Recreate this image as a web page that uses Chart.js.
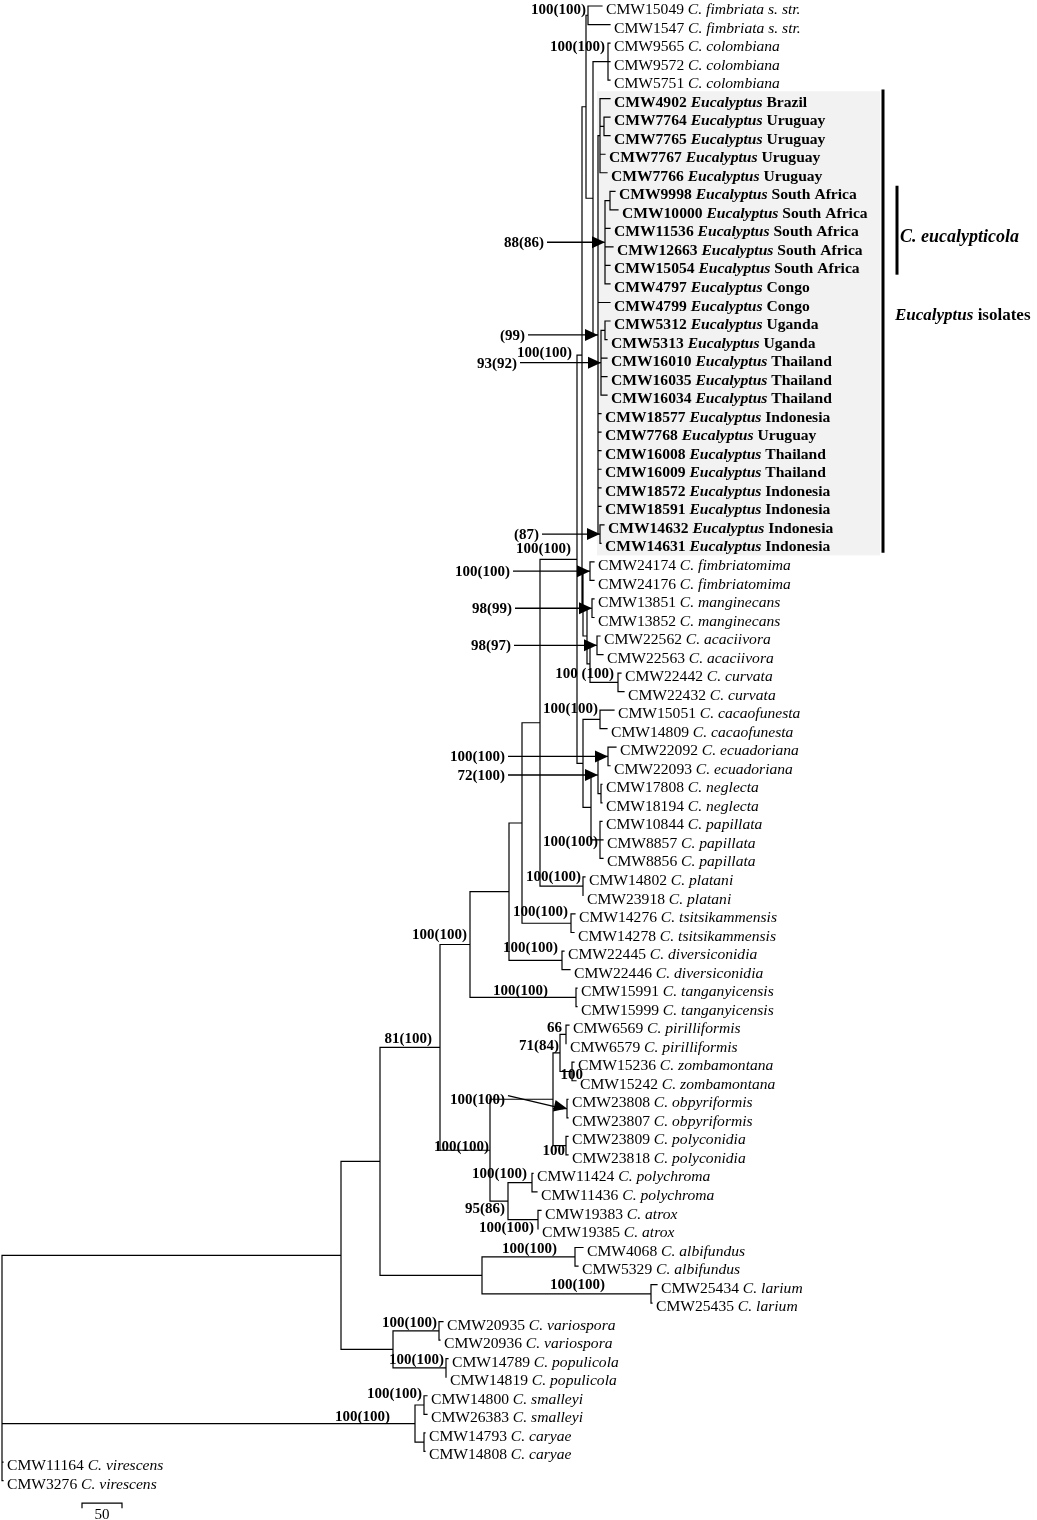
<!DOCTYPE html>
<html>
<head>
<meta charset="utf-8">
<script src="https://cdn.jsdelivr.net/npm/chart.js@4.4.1/dist/chart.umd.min.js"></script>
<style>
  html, body { margin: 0; padding: 0; background: #fff; }
  canvas { display: block; }
</style>
</head>
<body>
<canvas id="tree" width="1037" height="1520"></canvas>
<script>
// ---- data -------------------------------------------------------------
const isolates = [
  'CMW15049', 'CMW1547', 'CMW9565', 'CMW9572', 'CMW5751', 'CMW4902', 'CMW7764', 'CMW7765', 'CMW7767', 'CMW7766',
  'CMW9998', 'CMW10000', 'CMW11536', 'CMW12663', 'CMW15054', 'CMW4797', 'CMW4799', 'CMW5312', 'CMW5313', 'CMW16010',
  'CMW16035', 'CMW16034', 'CMW18577', 'CMW7768', 'CMW16008', 'CMW16009', 'CMW18572', 'CMW18591', 'CMW14632', 'CMW14631',
  'CMW24174', 'CMW24176', 'CMW13851', 'CMW13852', 'CMW22562', 'CMW22563', 'CMW22442', 'CMW22432', 'CMW15051', 'CMW14809',
  'CMW22092', 'CMW22093', 'CMW17808', 'CMW18194', 'CMW10844', 'CMW8857', 'CMW8856', 'CMW14802', 'CMW23918', 'CMW14276',
  'CMW14278', 'CMW22445', 'CMW22446', 'CMW15991', 'CMW15999', 'CMW6569', 'CMW6579', 'CMW15236', 'CMW15242', 'CMW23808',
  'CMW23807', 'CMW23809', 'CMW23818', 'CMW11424', 'CMW11436', 'CMW19383', 'CMW19385', 'CMW4068', 'CMW5329', 'CMW25434',
  'CMW25435', 'CMW20935', 'CMW20936', 'CMW14789', 'CMW14819', 'CMW14800', 'CMW26383', 'CMW14793', 'CMW14808', 'CMW11164',
  'CMW3276'
];

// taxon name and how many isolates in a row carry it
const taxonGroups = [
  ['C. fimbriata s. str.', 2], ['C. colombiana', 3], ['Eucalyptus', 25], ['C. fimbriatomima', 2],
  ['C. manginecans', 2], ['C. acaciivora', 2], ['C. curvata', 2], ['C. cacaofunesta', 2],
  ['C. ecuadoriana', 2], ['C. neglecta', 2], ['C. papillata', 3], ['C. platani', 2],
  ['C. tsitsikammensis', 2], ['C. diversiconidia', 2], ['C. tanganyicensis', 2], ['C. pirilliformis', 2],
  ['C. zombamontana', 2], ['C. obpyriformis', 2], ['C. polyconidia', 2], ['C. polychroma', 2],
  ['C. atrox', 2], ['C. albifundus', 2], ['C. larium', 2], ['C. variospora', 2],
  ['C. populicola', 2], ['C. smalleyi', 2], ['C. caryae', 2], ['C. virescens', 2]
];

// country of origin of the Eucalyptus isolates, in row order
const eucOrigins = [
  'Brazil', 'Uruguay', 'Uruguay', 'Uruguay', 'Uruguay', 'South Africa', 'South Africa', 'South Africa',
  'South Africa', 'South Africa', 'Congo', 'Congo', 'Uganda', 'Uganda', 'Thailand', 'Thailand', 'Thailand',
  'Indonesia', 'Uruguay', 'Thailand', 'Thailand', 'Indonesia', 'Indonesia', 'Indonesia', 'Indonesia'
];

// distance from the root to every tip
const tipDepth = [
  602, 610, 610, 610, 610, 610, 610, 610, 605, 607,
  615, 618, 610, 613, 610, 610, 610, 610, 607, 607,
  607, 607, 601, 601, 601, 601, 601, 601, 604, 601,
  594, 594, 594, 594, 600, 603, 621, 624, 614, 607,
  616, 610, 602, 602, 602, 603, 603, 585, 583, 575,
  574, 564, 570, 577, 577, 569, 566, 574, 576, 568,
  568, 568, 568, 533, 537, 541, 538, 583, 578, 657,
  652, 443, 440, 448, 446, 427, 427, 425, 425, 3, 3
];

// internal nodes: id, depth, support, children (numbers are tips)
const N = (id, depth, support, children) => ({ id, depth, support, children });
const tree =
N('root', 2, '', [
  N('A', 341, '', [
    N('B', 380, '', [
      N('C', 440, '81(100)', [
        N('D', 470, '100(100)', [
          N('D1', 509, '', [
            N('D2', 522, '', [
              N('D3', 540, '', [
                N('D4', 577, '100(100)', [
                  N('J', 582, '100(100)', [
                    N('Q', 586, '', [
                      N('FS', 588, '100(100)', [0, 1]),
                      N('Q2', 593, '', [
                        N('COL', 608, '100(100)', [2, 3, 4]),
                        N('EU', 598, '(99)', [
                          N('E1', 600, '', [5, N('E1a', 604, '', [6, 7]), 8, 9]),
                          N('E2', 605, '88(86)', [N('E2a', 610, '', [10, 11]), 12, 13, 14, 15]),
                          16,
                          N('E3', 601, '93(92)', [N('E3a', 605, '', [17, 18]), 19, 20, 21]),
                          22, 23, 24, 25, 26, 27,
                          N('E4', 600, '(87)', [28, 29])
                        ])
                      ])
                    ]),
                    N('R', 583, '', [
                      N('FM', 590, '100(100)', [30, 31]),
                      N('R2', 587, '', [
                        N('MA', 592, '98(99)', [32, 33]),
                        N('R3', 590, '', [
                          N('AC', 597, '98(97)', [34, 35]),
                          N('CU', 618, '100 (100)', [36, 37])
                        ])
                      ])
                    ])
                  ]),
                  N('K', 583, '', [
                    N('CA', 600, '100(100)', [38, 39]),
                    N('M', 591, '', [
                      N('Nn', 598, '72(100)', [N('EC', 608, '100(100)', [40, 41]), N('NE', 601, '', [42, 43])]),
                      N('PA', 600, '100(100)', [44, 45, 46])
                    ])
                  ])
                ]),
                N('PL', 583, '100(100)', [47, 48])
              ]),
              N('TS', 571, '100(100)', [49, 50])
            ]),
            N('DI', 562, '100(100)', [51, 52])
          ]),
          N('TA', 576, '100(100)', [53, 54])
        ]),
        N('E', 490, '100(100)', [
          N('F', 553, '', [
            N('H', 560, '71(84)', [N('PI', 566, '66', [55, 56]), N('ZO', 572, '100', [57, 58])]),
            N('OB', 567, '100(100)', [59, 60]),
            N('PC', 566, '100', [61, 62])
          ]),
          N('G', 508, '95(86)', [N('PY', 532, '100(100)', [63, 64]), N('AT', 538, '100(100)', [65, 66])])
        ])
      ]),
      N('AL', 482, '', [N('AB', 575, '100(100)', [67, 68]), N('LA', 651, '100(100)', [69, 70])])
    ]),
    N('VP', 393, '', [N('VA', 439, '100(100)', [71, 72]), N('PO', 446, '100(100)', [73, 74])])
  ]),
  N('SC', 415, '100(100)', [N('SM', 424, '100(100)', [75, 76]), N('CY', 424, '', [77, 78])]),
  79, 80
]);

// ---- placement of the annotations ------------------------------------
const ROW0 = 6, ROW_PX = 18.53, TEXT_DROP = 4, TIP_GAP = 4;
const leafRow = isolates.map((_, i) => i < 79 ? i : i - 0.42);

// support values written next to a node: [dx of right edge, dy]
const supportShift = {
  FS: [-2, -5], COL: [-3, -14], J: [-10, -2], D4: [-6, -10], CU: [-4, -8], CA: [-2, -10],
  PA: [-2, 2], PL: [-2, -9], TS: [-3, -11], DI: [-4, -12], TA: [-28, -6], D: [-3, -9],
  C: [-8, -8], PI: [-4, -6], H: [-1, -7], ZO: [11, 4], PC: [-1, 6], E: [-1, -3],
  PY: [-5, -9], G: [-3, 8], AT: [-4, 8], AB: [-18, -8], LA: [-46, -9], VA: [-2, -8],
  PO: [-2, -8], SM: [-2, -11], SC: [-25, -6]
};
// support values that point at their node with an arrow: start x, rise
const supportArrows = {
  EU: [528, 0], E2: [547, 0], E3: [520, 0], E4: [542, 0], FM: [513, 0],
  MA: [515, 0], AC: [514, 0], EC: [508, 0], Nn: [508, 0], OB: [508, -13]
};

const SERIF = "'Liberation Serif', 'Times New Roman', serif";
const LEAF_PX = 15.6;

// ---- build the tree geometry -----------------------------------------
const taxa = [];
taxonGroups.forEach(([name, n]) => { for (let i = 0; i < n; i++) taxa.push(name); });

const nodes = [];
function layout(n) {
  if (typeof n === 'number') return { leaf: n, x: tipDepth[n], y: leafRow[n] };
  const kids = n.children.map(layout);
  const out = { id: n.id, x: n.depth, y: (kids[0].y + kids[kids.length - 1].y) / 2, kids, support: n.support };
  nodes.push(out);
  return out;
}
const root = layout(tree);

const branchPts = [];
function seg(x1, y1, x2, y2) {
  branchPts.push({ x: x1, y: y1 }, { x: x2, y: y2 }, { x: null, y: null });
}
function walk(n) {
  if (!n.kids) return;
  seg(n.x, n.kids[0].y, n.x, n.kids[n.kids.length - 1].y);
  n.kids.forEach(k => { seg(n.x, k.y, k.x, k.y); walk(k); });
}
walk(root);

// ---- drawing helpers ---------------------------------------------------
function drawRuns(ctx, x, y, runs) {
  for (const [text, font] of runs) {
    ctx.font = font;
    ctx.fillText(text, x, y);
    x += ctx.measureText(text).width;
  }
}

const treeDecor = {
  id: 'treeDecor',
  beforeDatasetsDraw(chart) {
    const { ctx, scales: { x, y } } = chart;
    ctx.save();
    ctx.fillStyle = '#f2f2f2';
    const x0 = x.getPixelForValue(597), x1 = x.getPixelForValue(880);
    const y0 = y.getPixelForValue(4.6), y1 = y.getPixelForValue(29.65);
    ctx.fillRect(x0, y0, x1 - x0, y1 - y0);
    ctx.restore();
  },
  afterDatasetsDraw(chart) {
    const { ctx, scales: { x, y } } = chart;
    ctx.save();
    ctx.fillStyle = '#000';
    ctx.strokeStyle = '#000';
    ctx.textBaseline = 'middle';

    // tip labels
    let e = 0;
    isolates.forEach((iso, i) => {
      const px = x.getPixelForValue(tipDepth[i]) + TIP_GAP;
      const py = y.getPixelForValue(leafRow[i]) + TEXT_DROP;
      ctx.textAlign = 'left';
      if (taxa[i] === 'Eucalyptus') {
        drawRuns(ctx, px, py, [
          [iso + ' ', `bold ${LEAF_PX}px ${SERIF}`],
          ['Eucalyptus', `italic bold ${LEAF_PX}px ${SERIF}`],
          [' ' + eucOrigins[e++], `bold ${LEAF_PX}px ${SERIF}`]
        ]);
      } else {
        drawRuns(ctx, px, py, [
          [iso + ' ', `${LEAF_PX}px ${SERIF}`],
          [taxa[i], `italic ${LEAF_PX}px ${SERIF}`]
        ]);
      }
    });

    // support values
    ctx.font = `bold 15px ${SERIF}`;
    nodes.forEach(n => {
      if (!n.support) return;
      const nx = x.getPixelForValue(n.x), ny = y.getPixelForValue(n.y);
      if (supportArrows[n.id]) {
        const [fromX, rise] = supportArrows[n.id];
        const sx = x.getPixelForValue(fromX), sy = ny + rise;
        ctx.textAlign = 'right';
        ctx.fillText(n.support, sx - 3, sy + 1 + (rise ? 4 : 0));
        ctx.lineWidth = 1.3;
        ctx.beginPath(); ctx.moveTo(sx, sy); ctx.lineTo(nx - 4, ny); ctx.stroke();
        const ang = Math.atan2(ny - sy, nx - sx), L = 13, Hh = 6;
        ctx.beginPath();
        ctx.moveTo(nx, ny);
        ctx.lineTo(nx - L * Math.cos(ang) + Hh * Math.sin(ang), ny - L * Math.sin(ang) - Hh * Math.cos(ang));
        ctx.lineTo(nx - L * Math.cos(ang) - Hh * Math.sin(ang), ny - L * Math.sin(ang) + Hh * Math.cos(ang));
        ctx.closePath(); ctx.fill();
      } else {
        const [dx, dy] = supportShift[n.id] || [-2, -8];
        ctx.textAlign = 'right';
        ctx.fillText(n.support, nx + dx, ny + dy);
      }
    });

    // clade bars and their names
    ctx.lineWidth = 3;
    const bar = (bx, r0, r1) => {
      const px = x.getPixelForValue(bx);
      ctx.beginPath(); ctx.moveTo(px, y.getPixelForValue(r0)); ctx.lineTo(px, y.getPixelForValue(r1)); ctx.stroke();
    };
    bar(883, 4.5, 29.5);
    bar(897, 9.7, 14.5);
    ctx.textAlign = 'left';
    drawRuns(ctx, x.getPixelForValue(900), y.getPixelForValue(12.5), [['C. eucalypticola', `italic bold 18px ${SERIF}`]]);
    drawRuns(ctx, x.getPixelForValue(895), y.getPixelForValue(16.7), [
      ['Eucalyptus', `italic bold 17px ${SERIF}`], [' isolates', `bold 17px ${SERIF}`]
    ]);

    // scale bar (50 units)
    const sb0 = x.getPixelForValue(82), sb1 = x.getPixelForValue(122), sby = y.getPixelForValue(80.8);
    ctx.lineWidth = 1.2;
    ctx.beginPath();
    ctx.moveTo(sb0, sby + 5); ctx.lineTo(sb0, sby); ctx.lineTo(sb1, sby); ctx.lineTo(sb1, sby + 5);
    ctx.stroke();
    ctx.textAlign = 'center';
    ctx.font = `15px ${SERIF}`;
    ctx.fillText('50', (sb0 + sb1) / 2, sby + 12);
    ctx.restore();
  }
};

// ---- chart ---------------------------------------------------------------
new Chart(document.getElementById('tree'), {
  type: 'scatter',
  data: {
    datasets: [{
      data: branchPts,
      showLine: true,
      spanGaps: false,
      borderColor: '#000',
      borderWidth: 1.2,
      borderCapStyle: 'square',
      pointRadius: 0,
      tension: 0
    }]
  },
  options: {
    responsive: false,
    animation: false,
    devicePixelRatio: 1,
    events: [],
    layout: { padding: 0 },
    plugins: { legend: { display: false }, tooltip: { enabled: false } },
    scales: {
      x: { type: 'linear', min: 0, max: 1037, display: false },
      y: { type: 'linear', min: -ROW0 / ROW_PX, max: (1520 - ROW0) / ROW_PX, reverse: true, display: false }
    }
  },
  plugins: [treeDecor]
});
</script>
</body>
</html>
